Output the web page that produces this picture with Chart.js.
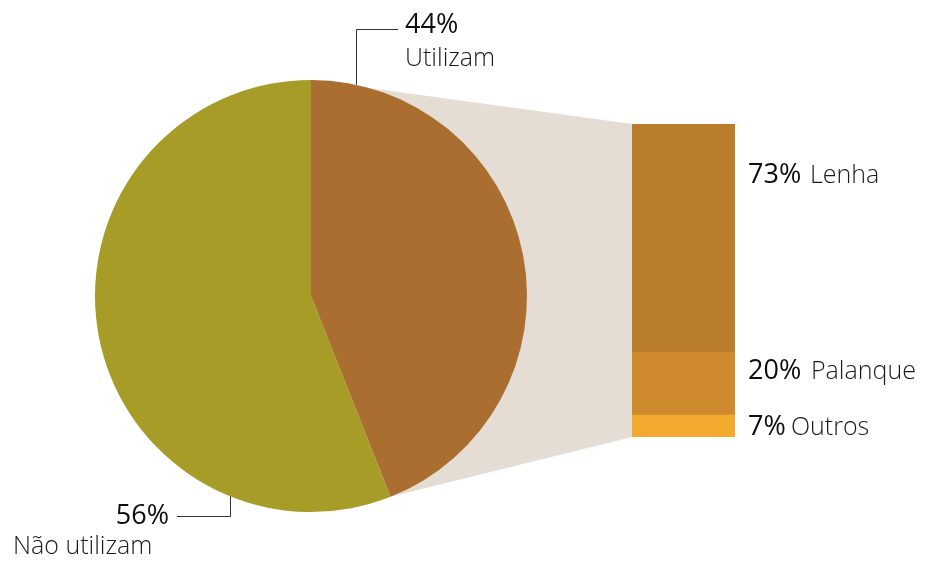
<!DOCTYPE html>
<html>
<head>
<meta charset="utf-8">
<script src="https://cdn.jsdelivr.net/npm/chart.js@4/dist/chart.umd.min.js"></script>
<style>
  body { margin: 0; background: #fff; }
  #wrap { position: relative; width: 928px; height: 561px; }
  #wrap canvas { position: absolute; left: 0; top: 0; }
</style>
</head>
<body>
<div id="wrap">
  <canvas id="pieChart" width="928" height="561"></canvas>
  <canvas id="barChart" width="928" height="561"></canvas>
</div>
<script>
// pie: who uses it
const pieLabels = ["Utilizam", "Não utilizam"];
const pieValues = [44, 56];
const pieColors = ["#AA6E31", "#A89C28"];

// bar: breakdown of "Utilizam"
const barLabels = ["Lenha", "Palanque", "Outros"];
const barValues = [73, 20, 7];
const barColors = ["#BA7D2A", "#CE8A2D", "#F2AB2F"];

const pctFont = '400 27px "Open Sans"';
const nameFont = '300 25px "Open Sans"';
const pctColor = "#0d0d0d";
const nameColor = "#1a1a1a";

// label placement next to each bar segment
const barLabelPos = [
	{ pctX: 748, nameX: 810, y: 183 },
	{ pctX: 748, nameX: 811, y: 379 },
	{ pctX: 748, nameX: 791, y: 435 },
];

// stacked bar: first dataset sits at the bottom, so reverse
const barDatasets = barValues
	.map((v, i) => ({
		label: barLabels[i],
		data: [v],
		backgroundColor: barColors[i],
		borderWidth: 0,
		barPercentage: 1,
		categoryPercentage: 1,
		idx: i,
	}))
	.reverse();

const barLabelPlugin = {
	id: "barLabels",
	afterDatasetsDraw(chart) {
		const ctx = chart.ctx;
		ctx.save();
		ctx.textBaseline = "alphabetic";
		chart.data.datasets.forEach((ds) => {
			const p = barLabelPos[ds.idx];
			ctx.font = pctFont;
			ctx.fillStyle = pctColor;
			ctx.fillText(ds.data[0] + "%", p.pctX, p.y);
			ctx.font = nameFont;
			ctx.fillStyle = nameColor;
			ctx.fillText(ds.label, p.nameX, p.y);
		});
		ctx.restore();
	},
};

const barChart = new Chart(document.getElementById("barChart"), {
	type: "bar",
	data: { labels: [""], datasets: barDatasets },
	options: {
		responsive: false,
		animation: false,
		devicePixelRatio: 1,
		layout: { padding: { left: 632, right: 193, top: 124, bottom: 124 } },
		scales: {
			x: { stacked: true, display: false },
			y: { stacked: true, display: false, min: 0, max: 100 },
		},
		plugins: { legend: { display: false }, tooltip: { enabled: false } },
	},
	plugins: [barLabelPlugin],
});

function barEdges() {
	let top = Infinity, bottom = -Infinity, left = 0;
	barChart.data.datasets.forEach((ds, i) => {
		const el = barChart.getDatasetMeta(i).data[0];
		top = Math.min(top, el.y);
		bottom = Math.max(bottom, el.base);
		left = el.x - el.width / 2;
	});
	return { top, bottom, left };
}

function arcPoint(arc, angle) {
	return {
		x: arc.x + arc.outerRadius * Math.cos(angle),
		y: arc.y + arc.outerRadius * Math.sin(angle),
	};
}

// beige band joining the "Utilizam" slice to the bar
const connectorPlugin = {
	id: "connector",
	beforeDatasetsDraw(chart) {
		const arc = chart.getDatasetMeta(0).data[0];
		const b = barEdges();
		const p1 = arcPoint(arc, arc.startAngle);
		const p2 = arcPoint(arc, arc.endAngle);
		const ctx = chart.ctx;
		ctx.save();
		ctx.fillStyle = "#E5DDD3";
		ctx.beginPath();
		ctx.moveTo(arc.x, arc.y);
		ctx.lineTo(p1.x, p1.y);
		ctx.lineTo(b.left, b.top);
		ctx.lineTo(b.left, b.bottom);
		ctx.lineTo(p2.x, p2.y);
		ctx.closePath();
		ctx.fill();
		ctx.restore();
	},
	afterDatasetsDraw(chart) {
		const arc = chart.getDatasetMeta(0).data[0];
		const ctx = chart.ctx;
		const r = arc.outerRadius;
		const vals = chart.data.datasets[0].data;
		ctx.save();
		ctx.strokeStyle = "#333";
		ctx.lineWidth = 1;

		// leader for "Utilizam"
		const a1 = -Math.PI / 2 + Math.asin(45 / r);
		const q1 = arcPoint(arc, a1);
		const x1 = Math.round(q1.x) + 0.5;
		ctx.beginPath();
		ctx.moveTo(x1, q1.y);
		ctx.lineTo(x1, 29.5);
		ctx.lineTo(398, 29.5);
		ctx.stroke();

		// leader for "Não utilizam"
		const a2 = Math.PI / 2 + Math.asin(81 / r);
		const q2 = arcPoint(arc, a2);
		const x2 = Math.round(q2.x) + 0.5;
		ctx.beginPath();
		ctx.moveTo(x2, q2.y);
		ctx.lineTo(x2, 516.5);
		ctx.lineTo(177, 516.5);
		ctx.stroke();

		ctx.textBaseline = "alphabetic";
		ctx.font = pctFont;
		ctx.fillStyle = pctColor;
		ctx.textAlign = "left";
		ctx.fillText(vals[0] + "%", 405, 33);
		ctx.textAlign = "right";
		ctx.fillText(vals[1] + "%", 169, 524);

		ctx.font = nameFont;
		ctx.fillStyle = nameColor;
		ctx.textAlign = "left";
		ctx.fillText(chart.data.labels[0], 405, 66);
		ctx.fillText(chart.data.labels[1], 13, 554);
		ctx.restore();
	},
};

const pieChart = new Chart(document.getElementById("pieChart"), {
	type: "pie",
	data: {
		labels: pieLabels,
		datasets: [
			{
				data: pieValues,
				backgroundColor: pieColors,
				borderWidth: 0,
			},
		],
	},
	options: {
		responsive: false,
		animation: false,
		devicePixelRatio: 1,
		layout: { padding: { left: 95, right: 401, top: 80, bottom: 49 } },
		plugins: { legend: { display: false }, tooltip: { enabled: false } },
	},
	plugins: [connectorPlugin],
});
</script>
</body>
</html>
